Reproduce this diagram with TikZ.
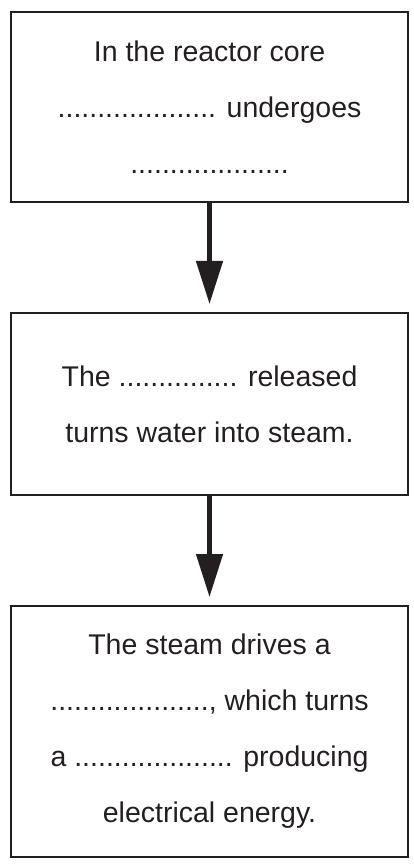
\documentclass[tikz,border=0pt]{standalone}
\usepackage{fontspec}
\setmainfont{Liberation Sans}
\usepackage{tikz}
\usetikzlibrary{positioning, arrows.meta}
\definecolor{InkBlack}{RGB}{35,31,32}
\tikzset{
  stepbox/.style={draw=InkBlack, line width=2pt, minimum width=397pt, inner sep=0pt,
    align=center, text=InkBlack, font=\fontsize{28.5pt}{56pt}\selectfont},
  flowarr/.style={-{Triangle[length=43pt, width=26pt]}, line width=4.5pt, InkBlack,
    shorten >=8pt},
}
\begin{document}
\begin{tikzpicture}[x=1pt, y=-1pt]
  \useasboundingbox (0,0) rectangle (414,866);
  \node[stepbox, minimum height=190pt] (core) at (209.5,107)
    {In the reactor core\\ .................... undergoes\\ ....................};
  \node[stepbox, minimum height=182pt] (heat) at (209.5,404)
    {The ............... released\\ turns water into steam.};
  \node[stepbox, minimum height=251pt] (power) at (209.5,731.5)
    {The steam drives a\\ ...................., which turns\\ a .................... producing\\ electrical energy.};
  \draw[flowarr] (core.south) -- (heat.north);
  \draw[flowarr] (heat.south) -- (power.north);
\end{tikzpicture}
\end{document}
